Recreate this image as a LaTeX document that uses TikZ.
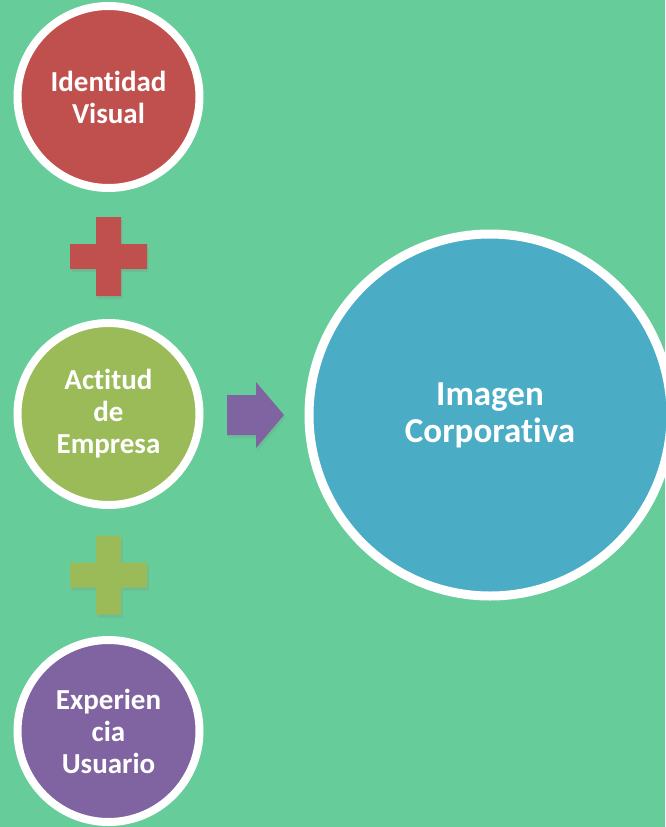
\documentclass[tikz,border=0pt]{standalone}
\usepackage{fontspec}
\setmainfont{Carlito}[Ligatures=NoCommon]
\usepackage{xcolor}
\usepackage{tikz}
\usetikzlibrary{shadows}
\definecolor{fondo}{RGB}{102,204,153}
\definecolor{rojo}{RGB}{192,80,77}
\definecolor{verde}{RGB}{155,187,89}
\definecolor{morado}{RGB}{128,100,162}
\definecolor{azul}{RGB}{75,172,198}
\tikzset{
  sombra/.style={drop shadow={opacity=0.18, shadow xshift=1.5pt, shadow yshift=-3pt}},
  bola/.style={circle, draw=white, line width=8pt, minimum size=182pt, inner sep=0pt,
    text=white, align=center, font=\fontsize{29}{32}\selectfont\bfseries, sombra},
  bolagrande/.style={bola, line width=9pt, minimum size=362pt,
    font=\fontsize{35}{37}\selectfont\bfseries}
}
\begin{document}
\begin{tikzpicture}[x=1pt,y=-1pt]
\useasboundingbox (0,0) rectangle (665,827);
\fill[fondo] (0,0) rectangle (665,827);
% circulos de la izquierda
\node[bola, fill=rojo] (identidad) at (108.5,97) {Identidad\\Visual};
\node[bola, fill=verde] (actitud) at (108.5,414) {Actitud\\de\\Empresa};
\node[bola, fill=morado] (experiencia) at (108.5,731) {Experien\\cia\\Usuario};
% signos mas
\foreach \y/\c in {256.5/rojo, 575/verde}
  \fill[\c, sombra] (96,\y-39.5) -- (121,\y-39.5) -- (121,\y-12.5) -- (147,\y-12.5)
    -- (147,\y+12.5) -- (121,\y+12.5) -- (121,\y+39.5) -- (96,\y+39.5)
    -- (96,\y+12.5) -- (70,\y+12.5) -- (70,\y-12.5) -- (96,\y-12.5) -- cycle;
% flecha
\fill[morado, sombra] (227,395) -- (256,395) -- (256,382) -- (284,415)
  -- (256,448) -- (256,435) -- (227,435) -- cycle;
\node[bolagrande, fill=azul] (imagen) at (490,415) {Imagen\\Corporativa};
\end{tikzpicture}
\end{document}
